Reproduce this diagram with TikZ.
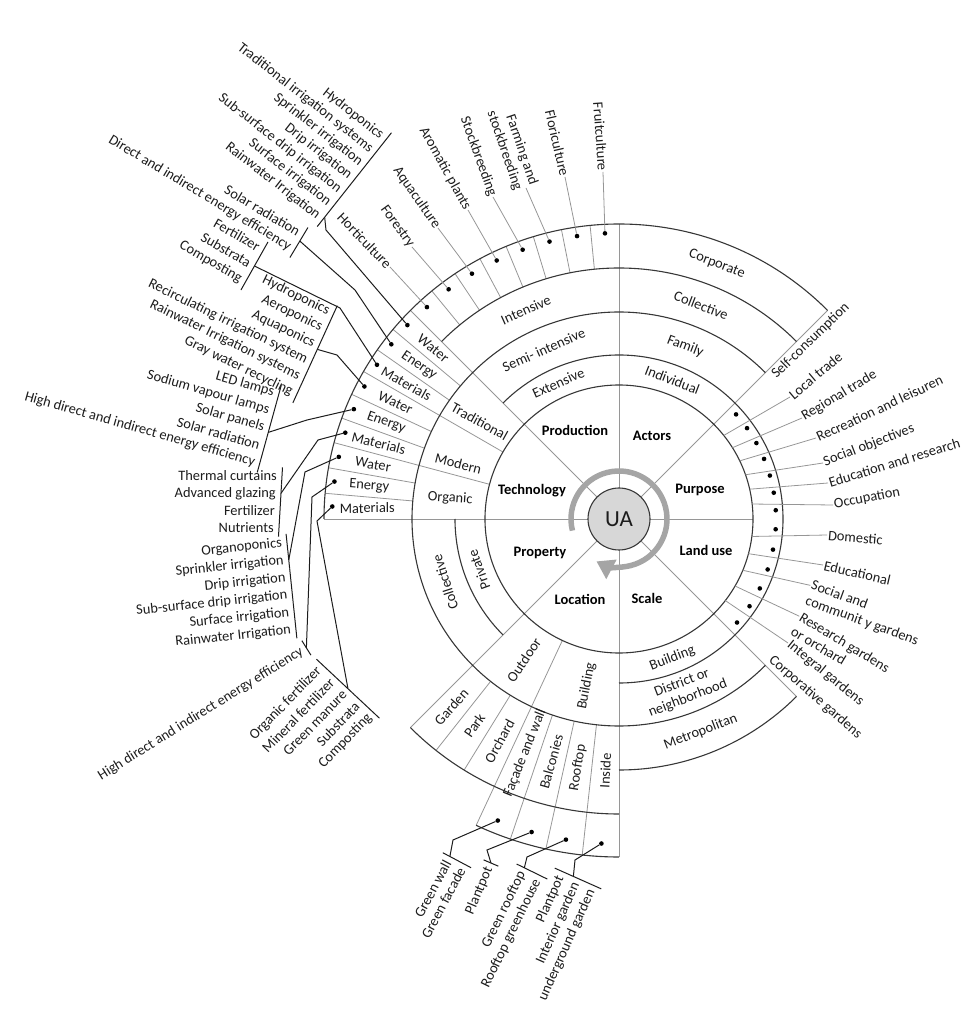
\documentclass[tikz,border=0pt]{standalone}
\usepackage{fontspec}
\setmainfont{Carlito}
\usepackage{xcolor}
\usepackage{tikz}
\usetikzlibrary{arrows.meta,calc}

\definecolor{arcgrey}{RGB}{55,55,55}
\definecolor{spokegrey}{RGB}{150,150,150}
\definecolor{hubgrey}{RGB}{215,215,215}
\definecolor{cyclegrey}{RGB}{165,165,165}
\definecolor{inkgrey}{RGB}{28,28,28}

\tikzset{
  ring/.style={draw=arcgrey, line width=1.1pt},
  spoke/.style={draw=spokegrey, line width=0.8pt},
  leader/.style={draw=inkgrey, line width=1pt},
  bracket/.style={draw=inkgrey, line width=1pt},
  dotmark/.style={circle, fill=black, inner sep=0pt, minimum size=4.6pt},
  lab/.style={font=\fontsize{14.4}{16.5}\selectfont, text=inkgrey, inner sep=1pt},
  sectorlab/.style={font=\fontsize{14.5}{17}\selectfont\bfseries, text=black},
}

% stacked labels ending at a bracket: name, first end, step, angle, join, labels
\newcommand{\labelstack}[6]{%
  \foreach \txt [count=\k from 0] in {#6}{
    \node[lab, rotate=#4, anchor=east] (#1\k) at ($#2+\k*#3$) {\txt};
    \draw[bracket] ($#2+\k*#3+(#4:4)-0.5*#3$) -- ($#2+\k*#3+(#4:4)+0.5*#3$);
  }
  \coordinate (#1join) at ($#2+#5*#3+(#4:4)$);
}

\begin{document}
\begin{tikzpicture}[x=1pt, y=1pt]
\useasboundingbox (-619,-505) rectangle (360,519);

% spokes
\draw[spoke] (0:31) -- (0:134);
\draw[spoke] (45:31) -- (45:295);
\draw[spoke] (90:31) -- (90:295);
\draw[spoke] (135:31) -- (135:295);
\draw[spoke] (180:31) -- (180:295);
\draw[spoke] (225:31) -- (225:295);
\draw[spoke] (270:31) -- (270:338);
\draw[spoke] (315:31) -- (315:251);

% cell borders
\foreach \k in {1,...,7}
  \draw[spoke] ({90+5.625*\k}:251) -- ({90+5.625*\k}:295);
\draw[spoke] (150:134) -- (150:295);
\draw[spoke] (165:134) -- (165:295);
\foreach \a in {140,145,155,160,170,175}
  \draw[spoke] (\a:207) -- (\a:295);
\draw[spoke] (245:134) -- (245:338);
\foreach \a in {231.67,238.33}
  \draw[spoke] (\a:207) -- (\a:295);
\foreach \a in {251.25,257.5,263.75}
  \draw[spoke] (\a:207) -- (\a:338);

% rings
\draw[ring] (0,0) circle (134);
\draw[ring] (-90:164) arc[start angle=-90, end angle=135, radius=164];
\draw[ring] (180:164) arc[start angle=180, end angle=225, radius=164];
\draw[ring] (45:207) arc[start angle=45, end angle=315, radius=207];
\draw[ring] (45:251) arc[start angle=45, end angle=135, radius=251];
\draw[ring] (270:251) arc[start angle=270, end angle=315, radius=251];
\draw[ring] (45:295) arc[start angle=45, end angle=180, radius=295];
\draw[ring] (225:295) arc[start angle=225, end angle=270, radius=295];
\draw[ring] (245:338) arc[start angle=245, end angle=270, radius=338];

% hub
\node[circle, draw=arcgrey, line width=1.1pt, fill=hubgrey, minimum size=62pt, inner sep=0pt,
  font=\fontsize{23}{26}\selectfont, text=inkgrey] (ua) at (0,0) {UA};
\draw[cyclegrey, line width=5.5pt, -{Triangle[length=17pt, width=21pt]}]
  (194:48) arc[start angle=194, end angle=-118, radius=48];

\node[sectorlab] (production) at (-44,89) {Production};
\node[sectorlab] (actors) at (33,83) {Actors};
\node[sectorlab] (purpose) at (81,29) {Purpose};
\node[sectorlab] (landuse) at (87,-31) {Land use};
\node[sectorlab] (scale) at (28,-79) {Scale};
\node[sectorlab] (location) at (-39,-80) {Location};
\node[sectorlab] (property) at (-79,-34) {Property};
\node[sectorlab] (technology) at (-87,28) {Technology};

% dots
\foreach \k in {0,...,6}
  \node[dotmark] (pu\k) at ({45-6.43*(\k+0.5)}:157) {};
\foreach \k in {0,...,5}
  \node[dotmark] (lu\k) at ({-7.5*(\k+0.5)}:157) {};
\foreach \k in {1,...,8}
  \node[dotmark] (pd\k) at ({90+5.625*(\k-0.5)}:286) {};
\foreach \k in {0,...,8}
  \node[dotmark] (td\k) at ({137.5+5*\k}:287) {};
\foreach \a [count=\k from 0] in {248.1,254.4,260.6,266.9}
  \node[dotmark] (ld\k) at (\a:325) {};

% actors
\node[lab, rotate=-21] (individual) at (69:149) {Individual};
\node[lab, rotate=-21] (family) at (69:185) {Family};
\node[lab, rotate=-21] (collectiveA) at (69:229) {Collective};
\node[lab, rotate=-21] (corporate) at (69:273) {Corporate};

% production
\node[lab, rotate=24] (extensive) at (114:149) {Extensive};
\node[lab, rotate=24] (semi) at (114:185) {Semi- intensive};
\node[lab, rotate=24] (intensive) at (114:229) {Intensive};
\node[lab, rotate=-86, anchor=east] (fruit) at (-16,347) {Fruitculture};
\node[lab, rotate=-77, anchor=east] (flori) at (-54,342) {Floriculture};
\node[lab, rotate=-71, anchor=east, align=right] (farming) at (-93,331) {Farming and\\stockbreeding};
\node[lab, rotate=-70, anchor=east] (stock) at (-126,322) {Stockbreeding};
\node[lab, rotate=-61, anchor=east] (aromatic) at (-151,309) {Aromatic plants};
\node[lab, rotate=-55, anchor=east] (aqua) at (-181,291) {Aquaculture};
\node[lab, rotate=-54, anchor=east] (forestry) at (-207,272) {Forestry};
\node[lab, rotate=-46, anchor=east] (horti) at (-229,252) {Horticulture};
\foreach \nm [count=\k] in {fruit,flori,farming,stock,aromatic,aqua,forestry,horti}
  \draw[spoke] (pd\k) -- (\nm.east);

% technology
\node[lab, rotate=-29] (traditional) at (145:170) {Traditional};
\node[lab, rotate=-14] (modern) at (161:170) {Modern};
\node[lab, rotate=-4] (organic) at (173:170) {Organic};
\foreach \txt [count=\k from 0] in {Water,Energy,Materials,Water,Energy,Materials,Water,Energy,Materials}
  \node[lab, rotate={137.5+5*\k-177}] (wem\k) at ({137.5+5*\k}:252) {\txt};

% property
\node[lab, rotate=110] (private) at (200:149) {Private};
\node[lab, rotate=108] (collectiveP) at (200:185) {Collective};

% location
\node[lab, rotate=56] (outdoor) at (236:170) {Outdoor};
\node[lab, rotate=79] (buildingL) at (259:170) {Building};
\foreach \txt/\a [count=\k from 0] in {Garden/228.3,Park/235,Orchard/241.7,Façade and wall/248.1,Balconies/254.4,Rooftop/260.6,Inside/266.9}
  \node[lab, rotate={\a-180}] (cell\k) at (\a:252) {\txt};

% scale
\node[lab, rotate=21] (buildingS) at (291:149) {Building};
\node[lab, rotate=21, align=center] (district) at (291:184) {District or\\neighborhood};
\node[lab, rotate=21] (metro) at (291:228) {Metropolitan};

% purpose
\node[lab, rotate=44, anchor=west] (selfc) at (154,142) {Self-consumption};
\node[lab, rotate=40, anchor=west] (localt) at (171,122) {Local trade};
\node[lab, rotate=31, anchor=west] (regiont) at (183,101) {Regional trade};
\node[lab, rotate=25, anchor=west] (recre) at (197,81) {Recreation and leisuren};
\node[lab, rotate=21, anchor=west] (socobj) at (204,56) {Social objectives};
\node[lab, rotate=17, anchor=west] (edures) at (209,36) {Education and research};
\node[lab, rotate=11, anchor=west] (occup) at (214,14) {Occupation};
\foreach \nm [count=\k] in {localt,regiont,recre,socobj,edures,occup}
  \draw[spoke] ({45-6.43*\k}:134) -- (\nm.west);

% land use
\node[lab, rotate=-5, anchor=west] (domestic) at (208,-16) {Domestic};
\node[lab, rotate=-13, anchor=west] (educ) at (204,-46) {Educational};
\node[lab, rotate=-20, anchor=north west, align=left] (socgard) at (194,-59) {Social and\\communit y gardens};
\node[lab, rotate=-31, anchor=north west, align=left] (resgard) at (184,-91) {Research gardens\\or orchard};
\node[lab, rotate=-39, anchor=west] (integ) at (169,-124) {Integral gardens};
\node[lab, rotate=-41, anchor=west] (corpg) at (151,-139) {Corporative gardens};
\draw[spoke] (-7.5:134) -- (domestic.west);
\draw[spoke] (-15:134) -- (educ.west);
\draw[spoke] (-22.5:134) -- ($(socgard.north west)!0.25!(socgard.south west)$);
\draw[spoke] (-30:134) -- ($(resgard.north west)!0.25!(resgard.south west)$);
\draw[spoke] (-37.5:134) -- (integ.west);

% technology lists
\labelstack{brA}{(-236,382)}{(-10.6,-13.4)}{-38}{5.8}{Hydroponics,Traditional irrigation systems,Sprinkler irrigation,Drip irrigation,Sub-surface drip irrigation,Surface irrigation,Rainwater Irrigation}
\coordinate (bendA) at (-293,289);
\draw[leader] (td0) -- (bendA) -- (brAjoin);

\labelstack{brB}{(-319,286)}{(-9,-15)}{-31}{0.4}{Solar radiation,Direct and indirect energy efficiency}
\coordinate (bendB) at (-264,229);
\draw[leader] (td1) -- (bendB) -- (brBjoin);

\labelstack{brC}{(-359,271)}{(-9,-16)}{-30}{1}{Fertilizer,Substrata,Composting}
\coordinate (bendC) at (-279,211);
\draw[leader] (td2) -- (bendC) -- (brCjoin);

\labelstack{brD}{(-289,207)}{(-7.4,-16.2)}{-26}{2.2}{Hydroponics,Aeroponics,Aquaponics,Recirculating irrigation system,Rainwater Irrigation systems,Gray water recycling}
\coordinate (bendD) at (-282,164);
\draw[leader] (td3) -- (bendD) -- (brDjoin);

\labelstack{brE}{(-344,126)}{(-4.8,-17.4)}{-16}{2.2}{LED lamps,Sodium vapour lamps,Solar panels,Solar radiation,High direct and indirect energy efficiency}
\coordinate (bendE) at (-312,99);
\draw[leader] (td4) -- (bendE) -- (brEjoin);

\labelstack{brF}{(-341,43)}{(-1,-17.3)}{0}{1}{Thermal curtains,Advanced glazing,Fertilizer,Nutrients}
\coordinate (bendF) at (-301,79);
\draw[leader] (td5) -- (bendF) -- (brFjoin);

\labelstack{brG}{(-336,-24)}{(1.8,-17.4)}{6}{1}{Organoponics,Sprinkler irrigation,Drip irrigation,Sub-surface drip irrigation,Surface irrigation,Rainwater Irrigation}
\coordinate (bendG) at (-314,47);
\draw[leader] (td6) -- (bendG) -- (brGjoin);

\labelstack{brH}{(-316,-131)}{(9,-14.4)}{32}{0}{High direct and indirect energy efficiency}
\coordinate (bendH) at (-307,22);
\draw[leader] (td7) -- (bendH) -- (brHjoin);

\labelstack{brI}{(-299,-149)}{(12.6,-11.8)}{46}{2}{Organic fertilizer,Mineral fertilizer,Green manure,Substrata,Composting}
\coordinate (bendI) at (-302,-2);
\draw[leader] (td8) -- (bendI) -- (brIjoin);

% location lists
\labelstack{brL}{(-171,-341)}{(14.1,-7.5)}{62}{0}{Green wall,Green facade}
\coordinate (bendL) at (-166,-321);
\draw[leader] (ld0) -- (bendL) -- (brLjoin);

\labelstack{brM}{(-129.6,-347.7)}{(14.7,-6.3)}{67}{0}{Plantpot}
\coordinate (bendM) at (-132,-331);
\draw[leader] (ld1) -- (bendM) -- (brMjoin);

\labelstack{brN}{(-96.4,-352.4)}{(15.3,-7.5)}{64}{0}{Green rooftop,Rooftop greenhouse}
\coordinate (bendN) at (-92,-338);
\draw[leader] (ld2) -- (bendN) -- (brNjoin);

\labelstack{brO}{(-58.1,-356.25)}{(15.5,-6.9)}{66}{0.7}{Plantpot,Interior garden,underground garden}
\coordinate (bendO) at (-44,-341);
\draw[leader] (ld3) -- (bendO) -- (brOjoin);
\end{tikzpicture}
\end{document}
